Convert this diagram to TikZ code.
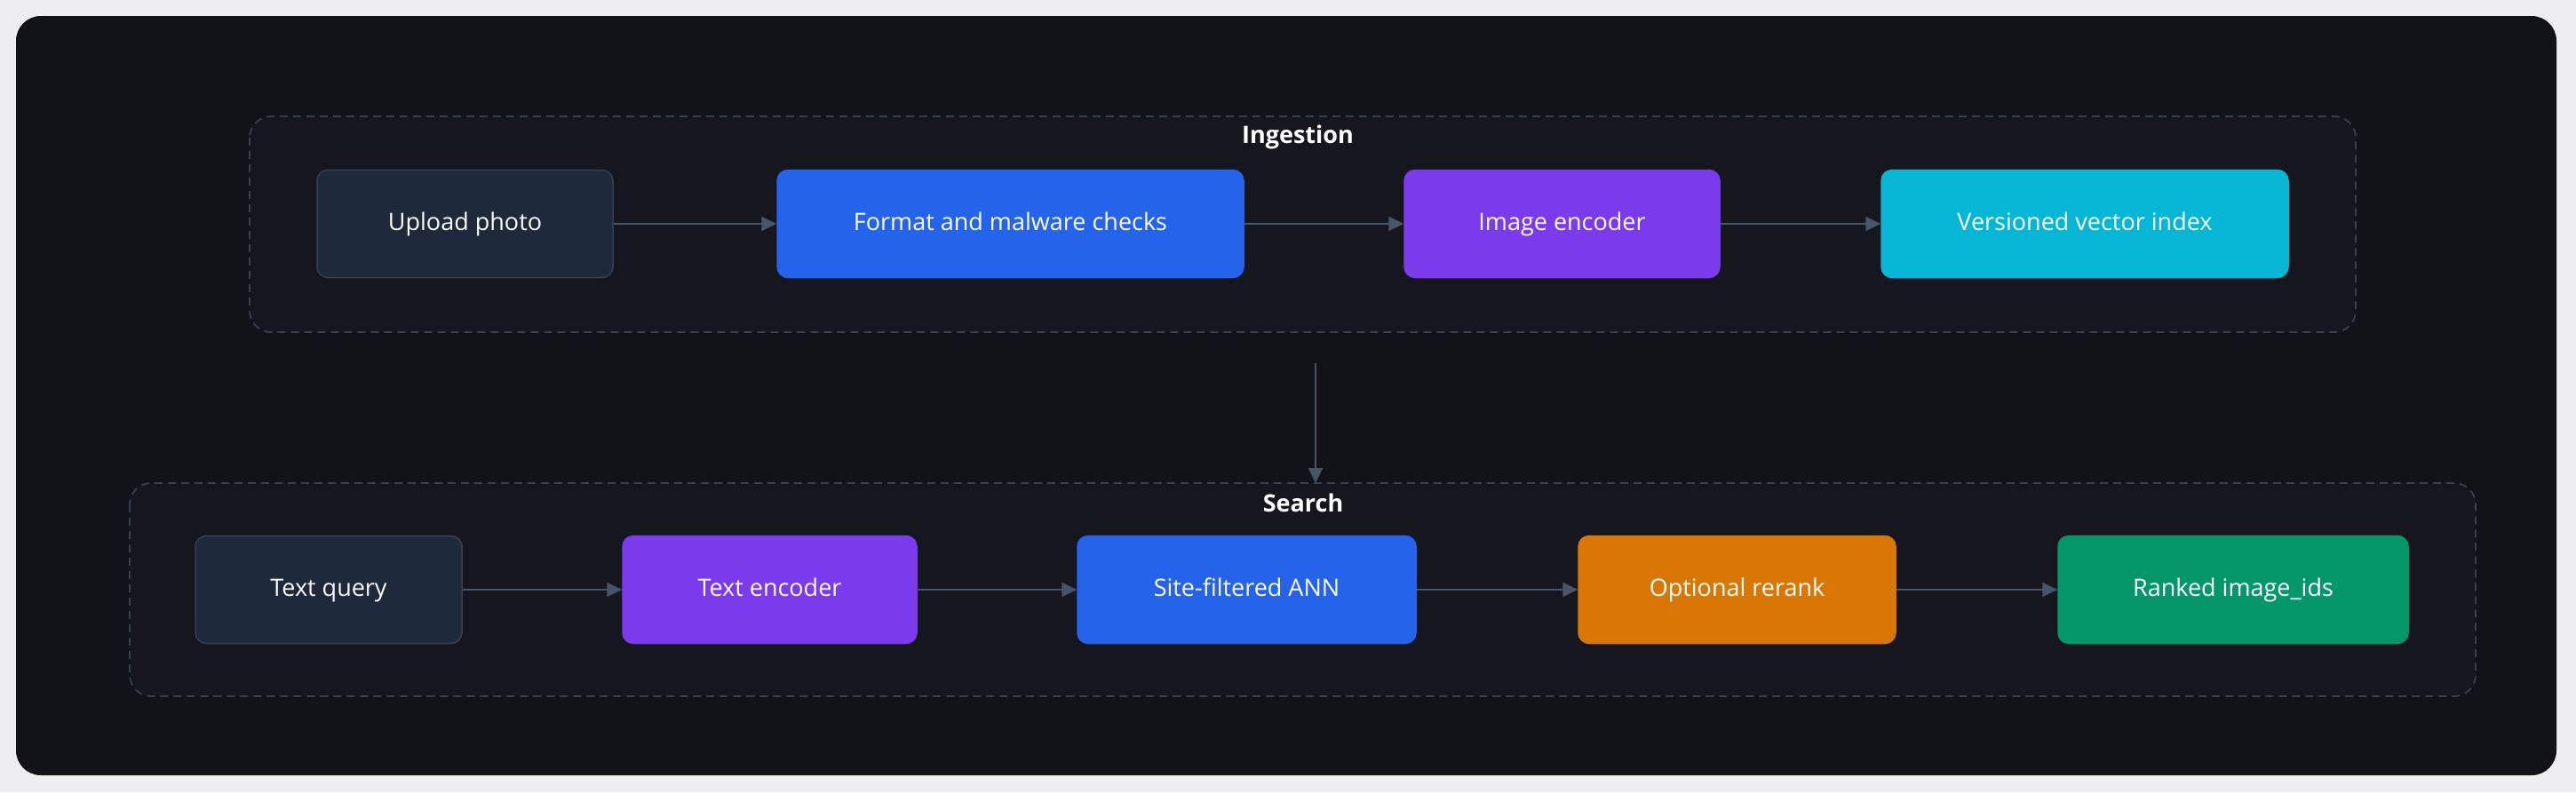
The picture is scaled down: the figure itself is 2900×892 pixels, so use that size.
\documentclass[tikz,border=0pt]{standalone}
\usepackage{fontspec}
\setmainfont{Open Sans}
\usetikzlibrary{arrows.meta}
\definecolor{bgout}{HTML}{EEEEF0}
\definecolor{panel}{HTML}{111318}
\definecolor{grp}{HTML}{16161F}
\definecolor{grpline}{HTML}{334155}
\definecolor{arr}{HTML}{475569}
\definecolor{slate}{HTML}{1E293B}
\definecolor{cblue}{HTML}{2563EB}
\definecolor{cpurple}{HTML}{7C3AED}
\definecolor{ccyan}{HTML}{06B6D4}
\definecolor{corange}{HTML}{D97706}
\definecolor{cgreen}{HTML}{059669}
\begin{document}
\begin{tikzpicture}[x=1pt,y=-1pt,
  box/.style={draw=#1!85!white, fill=#1, rounded corners=12pt, line width=1.5pt, text=white, font=\fontsize{27}{34}\selectfont, text height=20pt, text depth=5pt},
  grpbox/.style={draw=grpline, dash pattern=on 9pt off 6pt, line width=1.8pt, fill=grp, rounded corners=24pt},
  ttl/.style={text=white, font=\fontsize{27}{34}\selectfont\bfseries},
  conn/.style={draw=arr, line width=2pt, -{Triangle[length=17pt,width=16pt]}}]
\fill[bgout] (0,0) rectangle (2900,892);
\fill[panel] (18,18) [rounded corners=28pt] rectangle (2878,873);
\draw[grpbox] (281,131) rectangle (2652,374);
\node[ttl] (ti) at (1461,154) {Ingestion};
\draw[grpbox] (146,544) rectangle (2787,784);
\node[ttl] (ts) at (1467,566) {Search};
\def\nd#1#2#3#4#5#6#7{\node[box=#3, draw=#4, minimum width=#5pt, minimum height=121pt] (#1) at (#6,#7) {#2};}
\nd{up}{Upload photo}{slate}{grpline}{333}{523.5}{252}
\nd{fm}{Format and malware checks}{cblue}{cblue}{525}{1137.5}{252}
\nd{ie}{Image encoder}{cpurple}{cpurple}{355}{1758.5}{252}
\nd{vv}{Versioned vector index}{ccyan}{ccyan}{458}{2347}{252}
\nd{tq}{Text query}{slate}{grpline}{300}{370}{664}
\nd{te}{Text encoder}{cpurple}{cpurple}{331}{866.5}{664}
\nd{sf}{Site-filtered ANN}{cblue}{cblue}{381}{1403.5}{664}
\nd{or}{Optional rerank}{corange}{corange}{357}{1955.5}{664}
\nd{ri}{Ranked image\_ids}{cgreen}{cgreen}{394}{2514}{664}
\draw[conn] (up) -- (fm);
\draw[conn] (fm) -- (ie);
\draw[conn] (ie) -- (vv);
\draw[conn] (tq) -- (te);
\draw[conn] (te) -- (sf);
\draw[conn] (sf) -- (or);
\draw[conn] (or) -- (ri);
\coordinate (a1) at (1481,409);
\coordinate (a2) at (1481,544);
\draw[conn] (a1) -- (a2);
\end{tikzpicture}
\end{document}
